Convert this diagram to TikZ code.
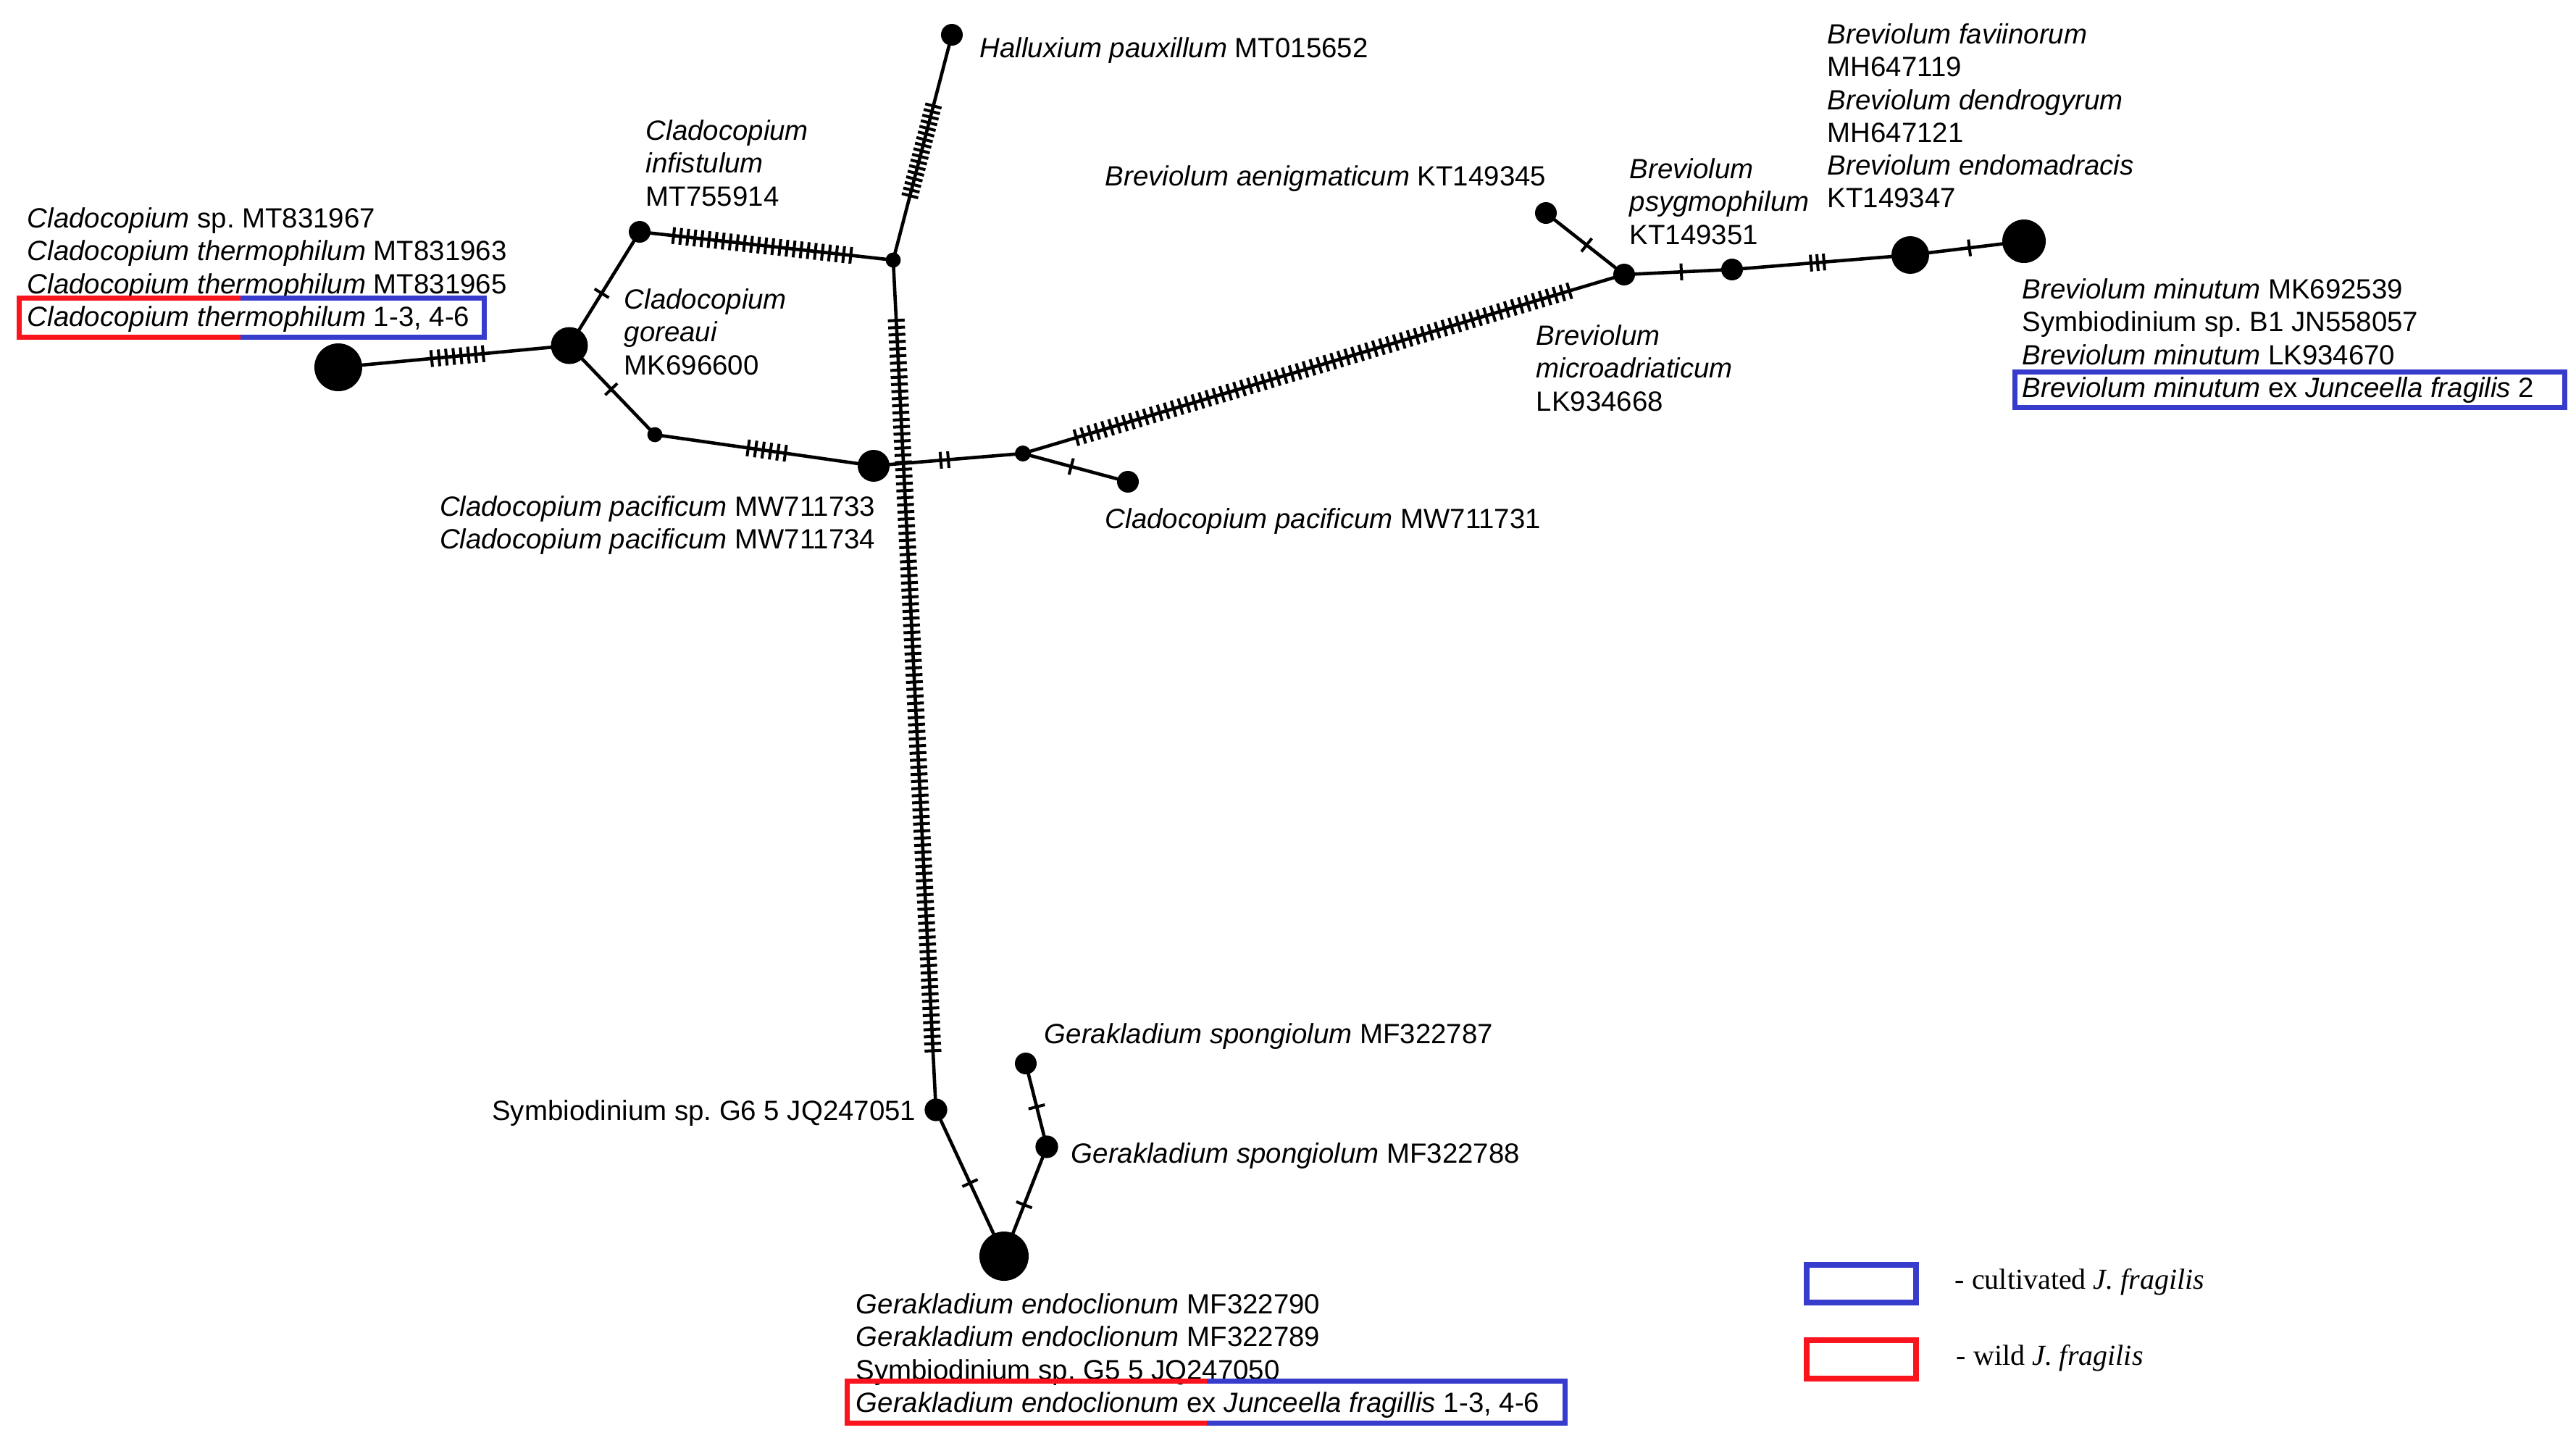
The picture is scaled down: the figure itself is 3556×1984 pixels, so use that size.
\documentclass[tikz,border=0pt]{standalone}
\usepackage{fontspec}
\setmainfont{Liberation Sans}
\newfontfamily\legfont{Liberation Serif}
\usetikzlibrary{decorations.markings}
\definecolor{boxblue}{RGB}{55,60,205}
\definecolor{boxred}{RGB}{250,20,30}
\begin{document}
\begin{tikzpicture}[x=0.25pt,y=-0.25pt,
  hap/.style={circle,fill=black,inner sep=0pt,minimum size=#1},
  edge/.style={line width=1.15pt},
  lbl/.style={inner sep=0pt,font=\frenchspacing\fontsize{9.6}{11.3}\selectfont,align=left,anchor=north west},
  lblr/.style={inner sep=0pt,font=\frenchspacing\fontsize{9.6}{11.3}\selectfont,align=right,anchor=north east},
  leg/.style={inner sep=0pt,font=\frenchspacing\legfont\fontsize{10}{12}\selectfont,anchor=west},
  tickrun/.style n args={3}{postaction={decorate,decoration={markings,
     mark=between positions #1 and #2 step #3 with {\draw[line width=1pt] (0pt,-2.9pt) -- (0pt,2.9pt);}}}},
  onetick/.style={postaction={decorate,decoration={markings,
     mark=at position #1 with {\draw[line width=1pt] (0pt,-2.9pt) -- (0pt,2.9pt);}}}},
  frame/.style={line width=1.9pt},
]
\useasboundingbox (0,0) rectangle (3556,1984);

% haplotype nodes
\node[hap=16.5pt] (A) at (467,507) {};
\node[hap=12.75pt] (B) at (786,477) {};
\node[hap=7.5pt] (C) at (883,320) {};
\node[hap=5.2pt] (D) at (904,600) {};
\node[hap=5.2pt] (E) at (1233,359) {};
\node[hap=7.5pt] (F) at (1314,48) {};
\node[hap=11pt] (G) at (1206,643) {};
\node[hap=5.5pt] (H) at (1412,626) {};
\node[hap=7.5pt] (I) at (1557,665) {};
\node[hap=7.5pt] (J) at (2242,379) {};
\node[hap=7.5pt] (K) at (2134,294) {};
\node[hap=7.5pt] (L) at (2391,372) {};
\node[hap=13pt] (M) at (2637,352) {};
\node[hap=15pt] (N) at (2794,333) {};
\node[hap=7.8pt] (O) at (1292,1532) {};
\node[hap=17pt] (P) at (1386,1734) {};
\node[hap=7.8pt] (Q) at (1445,1583) {};
\node[hap=7.5pt] (R) at (1416,1468) {};

% connectors with mutation ticks
\draw[edge,tickrun={0.404}{0.632}{2.55pt}] (A.center) -- (B.center);
\draw[edge,onetick=0.46] (B.center) -- (C.center);
\draw[edge,onetick=0.49] (B.center) -- (D.center);
\draw[edge,tickrun={0.134}{0.84}{2.46pt}] (C.center) -- (E.center);
\draw[edge,tickrun={0.427}{0.60}{2.58pt}] (D.center) -- (G.center);
\draw[edge,tickrun={0.286}{0.69}{2.0pt}] (E.center) -- (F.center);
\draw[edge,tickrun={0.071}{0.937}{2.45pt}] (E.center) -- (O.center);
\draw[edge,tickrun={0.45}{0.51}{2.6pt}] (G.center) -- (H.center);
\draw[edge,onetick=0.46] (H.center) -- (I.center);
\draw[edge,tickrun={0.089}{0.92}{2.5pt}] (H.center) -- (J.center);
\draw[edge,onetick=0.48] (J.center) -- (K.center);
\draw[edge,onetick=0.53] (J.center) -- (L.center);
\draw[edge,tickrun={0.443}{0.525}{2.25pt}] (L.center) -- (M.center);
\draw[edge,onetick=0.52] (M.center) -- (N.center);
\draw[edge,onetick=0.5] (O.center) -- (P.center);
\draw[edge,onetick=0.47] (P.center) -- (Q.center);
\draw[edge,onetick=0.48] (Q.center) -- (R.center);

% labels
\node[lbl] (t1) at (37,286) {\textit{Cladocopium} sp. MT831967\\
  \textit{Cladocopium thermophilum} MT831963\\
  \textit{Cladocopium thermophilum} MT831965\\
  \textit{Cladocopium thermophilum} 1-3, 4-6};
\node[lbl] (t2) at (891,165) {\textit{Cladocopium}\\\textit{infistulum}\\MT755914};
\node[lbl] (t3) at (861,398) {\textit{Cladocopium}\\\textit{goreaui}\\MK696600};
\node[lbl] (t4) at (1352,51) {\textit{Halluxium pauxillum} MT015652};
\node[lblr] (t5) at (1209,684) {\textit{Cladocopium pacificum} MW711733\\\textit{Cladocopium pacificum} MW711734};
\node[lbl] (t6) at (1525,701) {\textit{Cladocopium pacificum} MW711731};
\node[lbl] (t7) at (1525,228) {\textit{Breviolum aenigmaticum} KT149345};
\node[lbl] (t8) at (2249,218) {\textit{Breviolum}\\\textit{psygmophilum}\\KT149351};
\node[lbl] (t9) at (2522,32) {\textit{Breviolum faviinorum}\\MH647119\\\textit{Breviolum dendrogyrum}\\MH647121\\\textit{Breviolum endomadracis}\\KT149347};
\node[lbl] (t10) at (2120,448) {\textit{Breviolum}\\\textit{microadriaticum}\\LK934668};
\node[lbl] (t11) at (2791,384) {\textit{Breviolum minutum} MK692539\\Symbiodinium sp. B1 JN558057\\\textit{Breviolum minutum} LK934670\\\textit{Breviolum minutum} ex \textit{Junceella fragilis} 2};
\node[lbl] (t12) at (1441,1412) {\textit{Gerakladium spongiolum} MF322787};
\node[lblr] (t13) at (1265,1518) {Symbiodinium sp. G6 5 JQ247051};
\node[lbl] (t14) at (1478,1577) {\textit{Gerakladium spongiolum} MF322788};
\node[lbl] (t15) at (1181,1785) {\textit{Gerakladium endoclionum} MF322790\\\textit{Gerakladium endoclionum} MF322789\\Symbiodinium sp. G5 5 JQ247050\\\textit{Gerakladium endoclionum} ex \textit{Junceella fragillis} 1-3, 4-6};

% frames around the J. fragilis sequences
\draw[frame,boxblue] (26.5,411.5) rectangle (668.5,465.5);
\draw[frame,boxred] (332,411.5) -- (26.5,411.5) -- (26.5,465.5) -- (332,465.5);
\draw[frame,boxblue] (1169.5,1906.5) rectangle (2160.5,1964.5);
\draw[frame,boxred] (1666,1906.5) -- (1169.5,1906.5) -- (1169.5,1964.5) -- (1666,1964.5);
\draw[frame,boxblue] (2781.5,513.5) rectangle (3540.5,562.5);

% legend
\draw[line width=2pt,boxblue] (2494,1746) rectangle (2645,1798);
\draw[line width=2pt,boxred] (2494,1850) rectangle (2645,1903);
\node[leg] (lg1) at (2698,1770) {- cultivated \textit{J. fragilis}};
\node[leg] (lg2) at (2700,1875) {- wild \textit{J. fragilis}};
\end{tikzpicture}
\end{document}
